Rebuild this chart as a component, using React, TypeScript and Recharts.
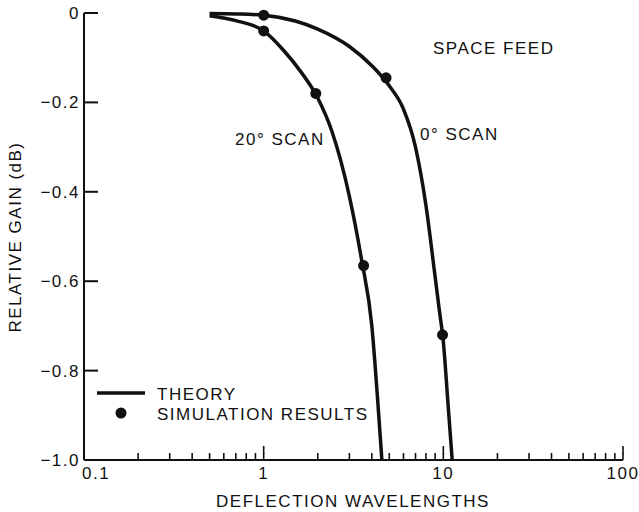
import { ComposedChart, Line, XAxis, YAxis } from "recharts";

// theory curves (x = deflection wavelengths, y = relative gain in dB)
const SCAN0_X = [0.5, 0.7, 1, 1.5, 2, 3, 4, 5, 6, 7, 8, 9, 9.5, 10, 10.6, 11.2];
const SCAN0_Y = [-0.001, -0.002, -0.005, -0.018, -0.036, -0.075, -0.118, -0.163, -0.215, -0.3, -0.43, -0.59, -0.665, -0.735, -0.87, -1.0];
const SCAN20_X = [0.5, 0.7, 1, 1.3, 1.6, 2, 2.4, 3, 3.5, 4, 4.3, 4.55];
const SCAN20_Y = [-0.006, -0.017, -0.04, -0.085, -0.13, -0.19, -0.265, -0.41, -0.55, -0.7, -0.86, -1.0];

// simulation results
const SIM0_X = [1, 4.8, 9.9];
const SIM0_Y = [-0.005, -0.145, -0.72];
const SIM20_X = [1, 1.95, 3.6];
const SIM20_Y = [-0.04, -0.18, -0.565];

const X_TICKS = [0.2, 0.3, 0.4, 0.5, 0.6, 0.7, 0.8, 0.9, 1, 2, 3, 4, 5, 6, 7, 8, 9, 10, 20, 30, 40, 50, 60, 70, 80, 90, 100];
const X_MAJOR = [1, 10, 100];
const Y_TICKS = [0, -0.2, -0.4, -0.6, -0.8];
const Y_LABELS = ["0", "\u22120.2", "\u22120.4", "\u22120.6", "\u22120.8", "\u22121.0"];

const INK = "#111";
const FONT = '"Liberation Sans", Arial, Helvetica, sans-serif';
const TXT = { fontFamily: FONT, fontSize: 17, letterSpacing: 1.5, fill: INK };

const zip = (xs: number[], ys: number[]) => xs.map((x, i) => ({ x, y: ys[i] }));

function XTick(props: any) {
  const { x, y, payload } = props;
  const mi = X_MAJOR.indexOf(payload.value);
  if (mi < 0) return <g />;
  return (
    <g>
      <line x1={x} x2={x} y1={y - 6} y2={y - 14} stroke={INK} strokeWidth={1.6} />
      <text {...TXT} x={x} y={y + 19} textAnchor="middle">
        {String(payload.value)}
      </text>
    </g>
  );
}

function YTick(props: any) {
  const { x, y, payload } = props;
  const i = Y_TICKS.indexOf(payload.value);
  return (
    <text {...TXT} x={x - 4} y={y + 6} textAnchor="end">
      {Y_LABELS[i]}
    </text>
  );
}

const SIM_DOT = { r: 5.5, fill: INK, stroke: "none" };

export default function App() {
  return (
    <div style={{ position: "absolute", left: 0, top: 0, width: 639, height: 512, background: "#fff" }}>
      <ComposedChart width={639} height={512} margin={{ top: 13, right: 16, bottom: 0, left: 0 }}>
        <XAxis
          dataKey="x"
          type="number"
          scale="log"
          domain={[0.1, 100]}
          allowDataOverflow
          ticks={X_TICKS}
          interval={0}
          tick={<XTick />}
          tickLine={{ stroke: INK, strokeWidth: 1.6 }}
          tickSize={-7}
          tickMargin={7}
          height={52}
          axisLine={{ stroke: INK, strokeWidth: 2 }}
        />
        <YAxis
          dataKey="y"
          type="number"
          domain={[-1, 0]}
          ticks={Y_TICKS}
          interval={0}
          tick={<YTick />}
          tickLine={{ stroke: INK, strokeWidth: 2 }}
          tickSize={-14}
          tickMargin={14}
          width={84}
          axisLine={{ stroke: INK, strokeWidth: 2 }}
        />
        <Line data={zip(SCAN0_X, SCAN0_Y)} dataKey="y" type="monotone" stroke={INK} strokeWidth={3.5} dot={false} isAnimationActive={false} />
        <Line data={zip(SCAN20_X, SCAN20_Y)} dataKey="y" type="monotone" stroke={INK} strokeWidth={3.5} dot={false} isAnimationActive={false} />
        <Line data={zip(SIM0_X, SIM0_Y)} dataKey="y" stroke="none" dot={SIM_DOT} activeDot={false} isAnimationActive={false} />
        <Line data={zip(SIM20_X, SIM20_Y)} dataKey="y" stroke="none" dot={SIM_DOT} activeDot={false} isAnimationActive={false} />
      </ComposedChart>

      {/* end labels of the axes, annotations, legend and axis titles */}
      <svg width={639} height={512} style={{ position: "absolute", left: 0, top: 0, pointerEvents: "none" }}>
        <text {...TXT} x={82} y={479}>0.1</text>
        <text {...TXT} x={80} y={466} textAnchor="end">{Y_LABELS[5]}</text>

        <text {...TXT} x={433} y={54}>SPACE FEED</text>
        <text {...TXT} x={420} y={140}>0° SCAN</text>
        <text {...TXT} x={235} y={145}>20° SCAN</text>

        <line x1={97} x2={145} y1={393} y2={393} stroke={INK} strokeWidth={3.5} />
        <text {...TXT} x={157} y={400}>THEORY</text>
        <circle cx={121} cy={413} r={5.5} fill={INK} />
        <text {...TXT} x={157} y={420}>SIMULATION RESULTS</text>

        <text {...TXT} x={353} y={507} textAnchor="middle">DEFLECTION WAVELENGTHS</text>
        <text {...TXT} transform="translate(21,237) rotate(-90)" textAnchor="middle">RELATIVE GAIN (dB)</text>
      </svg>
    </div>
  );
}
